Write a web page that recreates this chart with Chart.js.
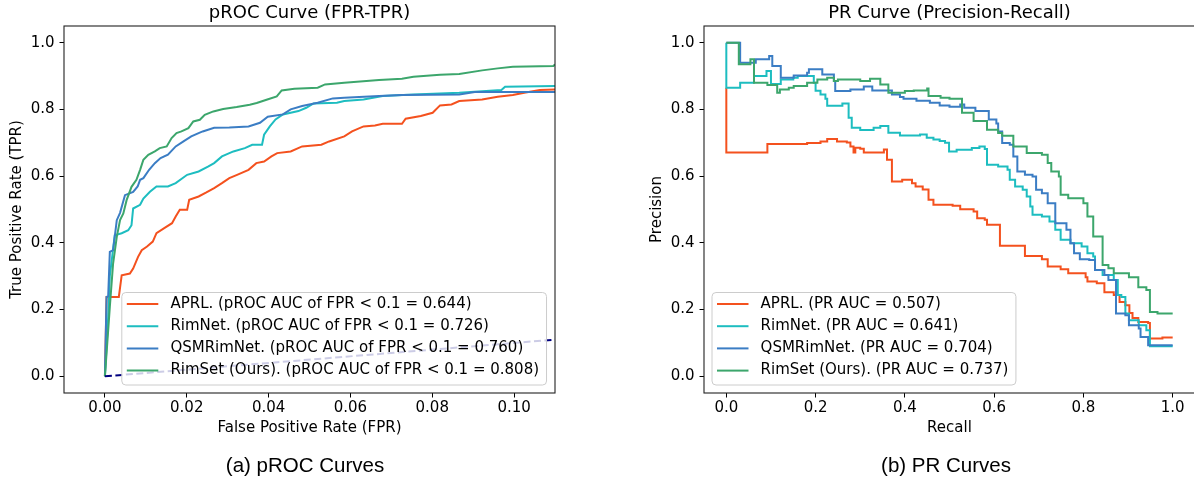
<!DOCTYPE html>
<html>
<head>
<meta charset="utf-8">
<script src="https://cdn.jsdelivr.net/npm/chart.js@4.4.1/dist/chart.umd.min.js"></script>
<style>
html,body{margin:0;padding:0;background:#fff;overflow:hidden;width:1194px;height:482px;}
#wrap{position:relative;width:1194px;height:482px;overflow:hidden;background:#fff;}
canvas{position:absolute;top:0;}
#c1{left:0;}
#c2{left:600px;}
.cap{position:absolute;top:465px;font-family:'Liberation Sans',Arial,sans-serif;font-size:20.5px;color:#000;transform:translate(-50%,-50%);white-space:nowrap;}
</style>
</head>
<body>
<div id="wrap">
  <canvas id="c1" width="600" height="482"></canvas>
  <canvas id="c2" width="600" height="482"></canvas>
  <div class="cap" style="left:305px">(a) pROC Curves</div>
  <div class="cap" style="left:946px">(b) PR Curves</div>
</div>
<script>
// ---------------- data ----------------
const seriesNames = ['APRL.', 'RimNet.', 'QSMRimNet.', 'RimSet (Ours).'];
const seriesColors = ['#f4511e', '#1dbdc0', '#3b7dc4', '#3ca66c'];
const rocAucs = ['0.644', '0.726', '0.760', '0.808'];
const prAucs = ['0.507', '0.641', '0.704', '0.737'];

const rocXTicks = [0, 0.02, 0.04, 0.06, 0.08, 0.10];
const rocXTickLabels = ['0.00', '0.02', '0.04', '0.06', '0.08', '0.10'];
const unitTicks = [0, 0.2, 0.4, 0.6, 0.8, 1.0];
const unitTickLabels = ['0.0', '0.2', '0.4', '0.6', '0.8', '1.0'];

// pROC curves (FPR, TPR)
const aprlFpr = [0, 0.0004, 0.0034, 0.0041, 0.0061, 0.0069, 0.0081, 0.009, 0.0103, 0.0117, 0.0126, 0.0145, 0.0164, 0.0173, 0.0183, 0.0201, 0.0206, 0.0229, 0.0248, 0.0267, 0.0286, 0.0304, 0.0323, 0.0351, 0.037, 0.0389, 0.0407, 0.0421, 0.0454, 0.0482, 0.0529, 0.0548, 0.0585, 0.0604, 0.0632, 0.066, 0.0679, 0.0726, 0.0735, 0.0772, 0.0801, 0.0819, 0.0847, 0.0866, 0.0922, 0.096, 0.0997, 0.1025, 0.1063, 0.11];
const aprlTpr = [0, 0.238, 0.238, 0.303, 0.308, 0.323, 0.358, 0.378, 0.389, 0.404, 0.429, 0.444, 0.459, 0.479, 0.499, 0.499, 0.529, 0.539, 0.551, 0.564, 0.579, 0.594, 0.604, 0.619, 0.639, 0.644, 0.659, 0.669, 0.674, 0.689, 0.694, 0.704, 0.719, 0.734, 0.749, 0.752, 0.757, 0.757, 0.772, 0.78, 0.79, 0.812, 0.815, 0.825, 0.83, 0.838, 0.843, 0.85, 0.858, 0.86];

const rimnetFpr = [0, 0.0008, 0.0012, 0.0024, 0.0041, 0.0057, 0.0065, 0.0069, 0.0086, 0.0094, 0.011, 0.0126, 0.0154, 0.0173, 0.0201, 0.0229, 0.0253, 0.0267, 0.0286, 0.0314, 0.0342, 0.036, 0.0384, 0.0389, 0.0403, 0.0417, 0.0435, 0.0473, 0.0492, 0.051, 0.0567, 0.0585, 0.0632, 0.0679, 0.0754, 0.0866, 0.0969, 0.0978, 0.11];
const rimnetTpr = [0, 0.178, 0.3, 0.423, 0.429, 0.438, 0.453, 0.503, 0.514, 0.533, 0.553, 0.569, 0.569, 0.579, 0.604, 0.614, 0.629, 0.639, 0.659, 0.674, 0.684, 0.694, 0.694, 0.724, 0.749, 0.77, 0.785, 0.795, 0.805, 0.818, 0.82, 0.825, 0.83, 0.84, 0.845, 0.85, 0.858, 0.868, 0.87];

const qsmFpr = [0, 0.0004, 0.0008, 0.0012, 0.002, 0.0029, 0.0037, 0.0049, 0.0069, 0.008, 0.0086, 0.0094, 0.0108, 0.0122, 0.0136, 0.0154, 0.0173, 0.0192, 0.0211, 0.0229, 0.0239, 0.0267, 0.0304, 0.0351, 0.0379, 0.0398, 0.0435, 0.0454, 0.0482, 0.052, 0.0557, 0.0585, 0.067, 0.0726, 0.0866, 0.0904, 0.11];
const qsmTpr = [0, 0.238, 0.24, 0.373, 0.378, 0.468, 0.49, 0.543, 0.553, 0.569, 0.589, 0.594, 0.619, 0.639, 0.654, 0.664, 0.689, 0.704, 0.719, 0.729, 0.734, 0.745, 0.746, 0.749, 0.76, 0.778, 0.785, 0.8, 0.81, 0.82, 0.833, 0.835, 0.84, 0.843, 0.845, 0.852, 0.852];

const rimsetFpr = [0, 0.0008, 0.0012, 0.002, 0.0029, 0.0037, 0.0045, 0.0053, 0.0065, 0.0077, 0.0086, 0.0094, 0.0106, 0.0122, 0.0134, 0.0151, 0.0163, 0.0175, 0.0187, 0.0204, 0.0216, 0.0232, 0.0244, 0.0265, 0.0289, 0.0322, 0.0354, 0.0371, 0.0395, 0.042, 0.0432, 0.0463, 0.052, 0.0538, 0.0585, 0.067, 0.0726, 0.0754, 0.0819, 0.0866, 0.0922, 0.096, 0.0997, 0.1096, 0.11];
const rimsetTpr = [0, 0.138, 0.208, 0.338, 0.418, 0.468, 0.488, 0.528, 0.568, 0.589, 0.619, 0.649, 0.664, 0.674, 0.684, 0.689, 0.714, 0.729, 0.734, 0.744, 0.764, 0.769, 0.784, 0.794, 0.801, 0.807, 0.814, 0.819, 0.829, 0.839, 0.857, 0.862, 0.865, 0.875, 0.88, 0.888, 0.892, 0.898, 0.904, 0.906, 0.917, 0.923, 0.928, 0.93, 0.935];

const chanceFpr = [0, 0.11];
const chanceTpr = [0, 0.11];

// PR curves (recall, precision), step-post
const aprlRecall = [0, 0, 0.092, 0.181, 0.211, 0.226, 0.248, 0.27, 0.278, 0.285, 0.289, 0.3, 0.308, 0.353, 0.36, 0.371, 0.394, 0.416, 0.424, 0.44, 0.453, 0.464, 0.507, 0.524, 0.554, 0.562, 0.579, 0.584, 0.613, 0.669, 0.707, 0.72, 0.749, 0.766, 0.805, 0.809, 0.83, 0.847, 0.868, 0.881, 0.894, 0.903, 0.91, 0.923, 0.945, 0.949, 0.977, 1.0];
const aprlPrecision = [0.865, 0.671, 0.696, 0.699, 0.704, 0.711, 0.704, 0.701, 0.689, 0.671, 0.685, 0.682, 0.671, 0.68, 0.649, 0.584, 0.589, 0.579, 0.569, 0.56, 0.529, 0.514, 0.511, 0.501, 0.494, 0.474, 0.469, 0.454, 0.391, 0.361, 0.351, 0.329, 0.321, 0.309, 0.297, 0.284, 0.279, 0.252, 0.244, 0.223, 0.213, 0.19, 0.175, 0.163, 0.16, 0.113, 0.116, 0.116];

const rimnetRecall = [0, 0, 0.031, 0.062, 0.09, 0.1, 0.122, 0.15, 0.16, 0.196, 0.2, 0.211, 0.222, 0.226, 0.26, 0.274, 0.281, 0.3, 0.33, 0.345, 0.363, 0.389, 0.434, 0.449, 0.464, 0.478, 0.49, 0.499, 0.516, 0.55, 0.567, 0.579, 0.584, 0.609, 0.63, 0.635, 0.647, 0.664, 0.673, 0.681, 0.686, 0.707, 0.724, 0.737, 0.749, 0.771, 0.796, 0.809, 0.822, 0.826, 0.843, 0.868, 0.877, 0.885, 0.894, 0.902, 0.924, 0.941, 0.949, 1.0];
const rimnetPrecision = [1.0, 0.865, 0.88, 0.9, 0.915, 0.876, 0.89, 0.895, 0.9, 0.88, 0.856, 0.845, 0.832, 0.811, 0.818, 0.775, 0.745, 0.738, 0.745, 0.75, 0.73, 0.722, 0.725, 0.715, 0.71, 0.705, 0.7, 0.674, 0.679, 0.684, 0.689, 0.681, 0.634, 0.629, 0.619, 0.589, 0.569, 0.559, 0.539, 0.509, 0.484, 0.479, 0.464, 0.439, 0.409, 0.399, 0.389, 0.369, 0.359, 0.319, 0.304, 0.289, 0.244, 0.238, 0.188, 0.168, 0.153, 0.138, 0.09, 0.09];

const qsmRecall = [0, 0.031, 0.066, 0.096, 0.103, 0.122, 0.151, 0.181, 0.185, 0.215, 0.241, 0.244, 0.278, 0.308, 0.327, 0.371, 0.389, 0.397, 0.426, 0.456, 0.478, 0.5, 0.524, 0.533, 0.558, 0.588, 0.605, 0.609, 0.618, 0.635, 0.643, 0.652, 0.669, 0.686, 0.694, 0.707, 0.72, 0.737, 0.762, 0.771, 0.779, 0.792, 0.813, 0.826, 0.847, 0.856, 0.873, 0.894, 0.902, 0.924, 0.928, 0.945, 1.0];
const qsmPrecision = [1.0, 0.94, 0.95, 0.96, 0.93, 0.895, 0.902, 0.91, 0.92, 0.905, 0.885, 0.855, 0.86, 0.869, 0.857, 0.845, 0.837, 0.832, 0.826, 0.82, 0.812, 0.808, 0.815, 0.805, 0.795, 0.77, 0.758, 0.734, 0.699, 0.694, 0.659, 0.614, 0.604, 0.599, 0.559, 0.549, 0.519, 0.459, 0.439, 0.399, 0.369, 0.351, 0.349, 0.319, 0.304, 0.289, 0.188, 0.183, 0.153, 0.143, 0.118, 0.093, 0.093];

const rimsetRecall = [0, 0.028, 0.054, 0.062, 0.092, 0.114, 0.12, 0.14, 0.151, 0.181, 0.204, 0.226, 0.241, 0.25, 0.3, 0.322, 0.345, 0.363, 0.4, 0.42, 0.45, 0.453, 0.48, 0.5, 0.528, 0.554, 0.584, 0.609, 0.618, 0.643, 0.673, 0.707, 0.72, 0.728, 0.745, 0.749, 0.766, 0.8, 0.809, 0.822, 0.843, 0.856, 0.868, 0.902, 0.923, 0.941, 0.949, 0.966, 1.0];
const rimsetPrecision = [1.0, 0.935, 0.95, 0.88, 0.873, 0.85, 0.86, 0.865, 0.87, 0.88, 0.89, 0.895, 0.885, 0.89, 0.885, 0.892, 0.875, 0.85, 0.855, 0.857, 0.863, 0.84, 0.835, 0.832, 0.79, 0.765, 0.739, 0.729, 0.721, 0.689, 0.669, 0.664, 0.639, 0.614, 0.599, 0.544, 0.534, 0.519, 0.479, 0.419, 0.334, 0.324, 0.309, 0.297, 0.267, 0.259, 0.193, 0.188, 0.188];

// ---------------- helpers ----------------
const FONT = "'DejaVu Sans', sans-serif";
const pts = (xs, ys) => xs.map((x, i) => ({x: x, y: ys[i]}));

function curve(label, xs, ys, color, order, stepped) {
  return {label, data: pts(xs, ys), borderColor: color, backgroundColor: color, borderWidth: 2,
    pointRadius: 0, pointHoverRadius: 0, tension: 0, fill: false, stepped: stepped || false, order};
}

function roundRectPath(ctx, x, y, w, h, r) {
  ctx.beginPath();
  ctx.moveTo(x + r, y);
  ctx.lineTo(x + w - r, y); ctx.arcTo(x + w, y, x + w, y + r, r);
  ctx.lineTo(x + w, y + h - r); ctx.arcTo(x + w, y + h, x + w - r, y + h, r);
  ctx.lineTo(x + r, y + h); ctx.arcTo(x, y + h, x, y + h - r, r);
  ctx.lineTo(x, y + r); ctx.arcTo(x, y, x + r, y, r);
  ctx.closePath();
}

function legendPlugin(labels, colors, boxLeft) {
  return {
    id: 'boxLegend',
    afterDatasetsDraw(chart) {
      const ctx = chart.ctx;
      ctx.save();
      ctx.font = '15px ' + FONT;
      const tw = Math.max(...labels.map(l => ctx.measureText(l).width));
      const x = boxLeft, y = 292.5, w = 48.6 + tw + 7.5, h = 92.5;
      roundRectPath(ctx, x, y, w, h, 4);
      ctx.fillStyle = 'rgba(255,255,255,0.8)';
      ctx.fill();
      ctx.strokeStyle = '#cccccc';
      ctx.lineWidth = 1;
      ctx.stroke();
      labels.forEach((l, i) => {
        const cy = 304 + i * 22.2;
        ctx.strokeStyle = colors[i];
        ctx.lineWidth = 2;
        ctx.beginPath(); ctx.moveTo(x + 5, cy); ctx.lineTo(x + 36.5, cy); ctx.stroke();
        ctx.fillStyle = '#000';
        ctx.textAlign = 'left';
        ctx.textBaseline = 'middle';
        ctx.fillText(l, x + 48.6, cy);
      });
      ctx.restore();
    }
  };
}

function frameTitlePlugin(title) {
  return {
    id: 'frameTitle',
    afterDraw(chart) {
      const ctx = chart.ctx, a = chart.chartArea;
      ctx.save();
      ctx.strokeStyle = '#222';
      ctx.lineWidth = 1.1;
      ctx.strokeRect(a.left, a.top, a.right - a.left, a.bottom - a.top);
      ctx.fillStyle = '#000';
      ctx.font = '18px ' + FONT;
      ctx.textAlign = 'center';
      ctx.textBaseline = 'middle';
      ctx.fillText(title, (a.left + a.right) / 2, 13);
      ctx.restore();
    }
  };
}

function axisX(min, max, ticks, labels, title) {
  return {
    type: 'linear', min, max,
    afterBuildTicks: s => { s.ticks = ticks.map(v => ({value: v})); },
    afterFit: s => { s.height = 50; },
    ticks: {callback: (v, i) => labels[i], color: '#000', font: {family: FONT, size: 15}, padding: 2, maxRotation: 0, autoSkip: false},
    grid: {display: true, drawOnChartArea: false, drawTicks: true, tickLength: 4.5, tickColor: '#000', tickWidth: 1},
    border: {display: false},
    title: {display: true, text: title, color: '#000', font: {family: FONT, size: 15}, padding: {top: 0, bottom: 5.7}}
  };
}
function axisY(width, titlePad, title) {
  return {
    type: 'linear', min: -0.05, max: 1.05,
    afterBuildTicks: s => { s.ticks = unitTicks.map(v => ({value: v})); },
    afterFit: s => { s.width = width; },
    ticks: {callback: (v, i) => unitTickLabels[i], color: '#000', font: {family: FONT, size: 15}, padding: 5, autoSkip: false},
    grid: {display: true, drawOnChartArea: false, drawTicks: true, tickLength: 4.5, tickColor: '#000', tickWidth: 1},
    border: {display: false},
    title: {display: true, text: title, color: '#000', font: {family: FONT, size: 15}, padding: {top: titlePad, bottom: 0}}
  };
}

const baseOpts = {responsive: false, animation: false, events: [],
  plugins: {legend: {display: false}, title: {display: false}, tooltip: {enabled: false}}};

// ---------------- pROC chart ----------------
const rocLabels = seriesNames.map((n, i) => n + ' (pROC AUC of FPR < 0.1 = ' + rocAucs[i] + ')');
new Chart(document.getElementById('c1'), {
  type: 'line',
  data: {datasets: [
    curve(rocLabels[0], aprlFpr, aprlTpr, seriesColors[0], 5),
    curve(rocLabels[1], rimnetFpr, rimnetTpr, seriesColors[1], 4),
    curve(rocLabels[2], qsmFpr, qsmTpr, seriesColors[2], 3),
    curve(rocLabels[3], rimsetFpr, rimsetTpr, seriesColors[3], 2),
    Object.assign(curve('Chance', chanceFpr, chanceTpr, '#000080', 1), {borderDash: [7, 3.5]})
  ]},
  options: Object.assign({}, baseOpts, {
    layout: {padding: {top: 26, right: 45, bottom: 39, left: 0}},
    scales: {
      x: axisX(-0.01, 0.11, rocXTicks, rocXTickLabels, 'False Positive Rate (FPR)'),
      y: axisY(64, 8, 'True Positive Rate (TPR)')
    }
  }),
  plugins: [legendPlugin(rocLabels, seriesColors, 121.8), frameTitlePlugin('pROC Curve (FPR-TPR)')]
});

// ---------------- PR chart ----------------
const prLabels = seriesNames.map((n, i) => n + ' (PR AUC = ' + prAucs[i] + ')');
new Chart(document.getElementById('c2'), {
  type: 'line',
  data: {datasets: [
    curve(prLabels[0], aprlRecall, aprlPrecision, seriesColors[0], 4, 'before'),
    curve(prLabels[1], rimnetRecall, rimnetPrecision, seriesColors[1], 3, 'before'),
    curve(prLabels[2], qsmRecall, qsmPrecision, seriesColors[2], 2, 'before'),
    curve(prLabels[3], rimsetRecall, rimsetPrecision, seriesColors[3], 1, 'before')
  ]},
  options: Object.assign({}, baseOpts, {
    layout: {padding: {top: 26, right: 5, bottom: 39, left: 0}},
    scales: {
      x: axisX(-0.05, 1.05, unitTicks, unitTickLabels, 'Recall'),
      y: axisY(104, 48, 'Precision')
    }
  }),
  plugins: [legendPlugin(prLabels, seriesColors, 112), frameTitlePlugin('PR Curve (Precision-Recall)')]
});
</script>
</body>
</html>
